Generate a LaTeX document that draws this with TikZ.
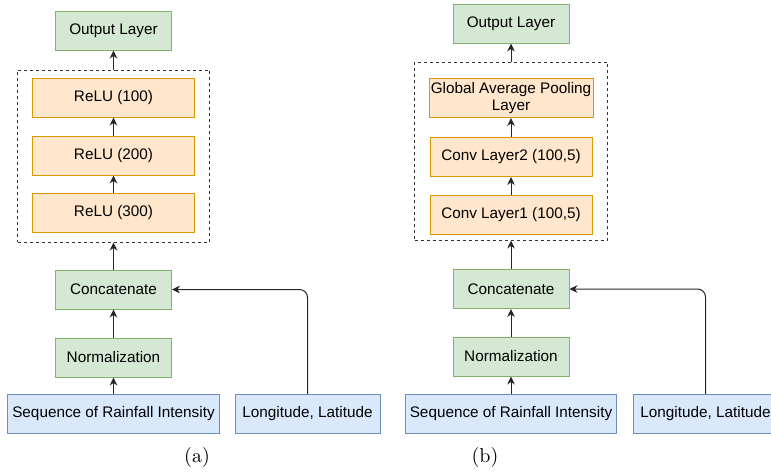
\documentclass[tikz,border=0pt]{standalone}
\usepackage{fontspec}
\setsansfont{Liberation Sans}
\usetikzlibrary{arrows.meta, positioning}
\definecolor{greenFill}{HTML}{D5E8D4}
\definecolor{greenLine}{HTML}{82B366}
\definecolor{orangeFill}{HTML}{FFE6CC}
\definecolor{orangeLine}{HTML}{D79B00}
\definecolor{blueFill}{HTML}{DAE8FC}
\definecolor{blueLine}{HTML}{6C8EBF}
\tikzset{
    boxBase/.style={rectangle, draw, line width=0.5pt, inner sep=1pt, minimum height=19.5pt, font=\sffamily\fontsize{7.65}{8.6}\selectfont, align=center},
    greenBox/.style={boxBase, fill=greenFill, draw=greenLine, minimum width=58pt},
    orangeBox/.style={boxBase, fill=orangeFill, draw=orangeLine, minimum width=81pt},
    blueBox/.style={boxBase, fill=blueFill, draw=blueLine},
    groupBox/.style={rectangle, draw=black!80, dash pattern=on 1.5pt off 1.5pt, line width=0.5pt, inner sep=0pt},
    flowEdge/.style={-{Stealth[length=4pt, width=3.8pt]}, line width=0.5pt, black!85},
}
\newcommand{\drawFlow}[3][]{
    \draw[flowEdge, #1] (#2) -- (#3);
}

\begin{document}
\begin{tikzpicture}[x=0.5pt, y=-0.5pt]
        \useasboundingbox (0,0) rectangle (771,472);

        % (a) dense network
        \node[groupBox, minimum width=96pt, minimum height=86pt] (grpA) at (113.5, 156) {};
        \node[greenBox] (outA) at (113.5, 30.5) {Output Layer};
        \node[orangeBox] (reluA1) at (113.5, 97.5) {ReLU (100)};
        \node[orangeBox] (reluA2) at (113.5, 155.5) {ReLU (200)};
        \node[orangeBox] (reluA3) at (113.5, 212.5) {ReLU (300)};
        \node[greenBox] (catA) at (113.5, 289.5) {Concatenate};
        \node[greenBox] (normA) at (113.5, 357.5) {Normalization};
        \node[blueBox, minimum width=106pt] (seqA) at (113.5, 414) {Sequence of Rainfall Intensity};
        \node[blueBox, minimum width=72.5pt] (lonA) at (307.5, 414) {Longitude, Latitude};
        \node (capA) at (197, 457) {(a)};

        \drawFlow{seqA.north}{normA.south}
        \drawFlow{normA.north}{catA.south}
        \drawFlow{catA.north}{grpA.south}
        \drawFlow{reluA3.north}{reluA2.south}
        \drawFlow{reluA2.north}{reluA1.south}
        \drawFlow{grpA.north}{outA.south}
        \draw[flowEdge, rounded corners=4pt] (lonA.north) |- (catA.east);

        % (b) convolutional network
        \node[groupBox, minimum width=96.5pt, minimum height=89pt] (grpB) at (511, 151) {};
        \node[greenBox] (outB) at (511, 23.5) {Output Layer};
        \node[orangeBox, minimum width=82pt, inner sep=0.5pt] (gapB) at (511, 98) {Global Average Pooling\\Layer};
        \node[orangeBox] (conv2B) at (511, 157) {Conv Layer2 (100,5)};
        \node[orangeBox] (conv1B) at (511, 215) {Conv Layer1 (100,5)};
        \node[greenBox] (catB) at (511, 289) {Concatenate};
        \node[greenBox] (normB) at (511, 356.5) {Normalization};
        \node[blueBox, minimum width=105.5pt] (seqB) at (511, 414) {Sequence of Rainfall Intensity};
        \node[blueBox, minimum width=72.5pt] (lonB) at (705.5, 414) {Longitude, Latitude};
        \node (capB) at (485, 457) {(b)};

        \drawFlow{seqB.north}{normB.south}
        \drawFlow{normB.north}{catB.south}
        \drawFlow{catB.north}{grpB.south}
        \drawFlow{conv1B.north}{conv2B.south}
        \drawFlow{conv2B.north}{gapB.south}
        \drawFlow{grpB.north}{outB.south}
        \draw[flowEdge, rounded corners=4pt] (lonB.north) |- (catB.east);

    \end{tikzpicture}
\end{document}
